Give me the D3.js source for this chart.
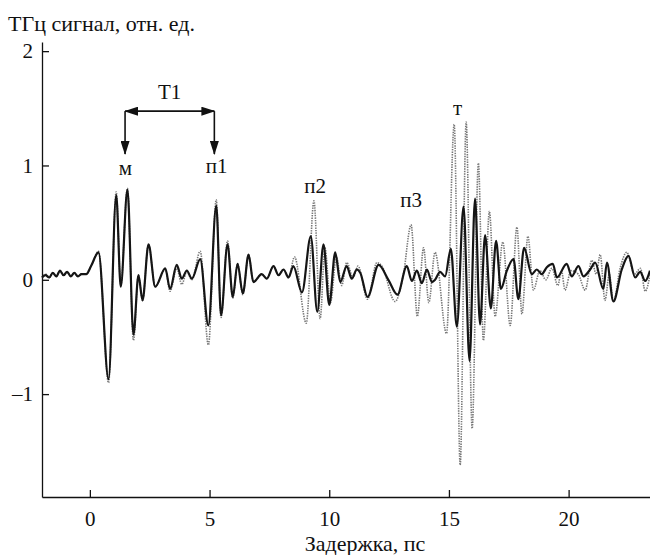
<!DOCTYPE html>
<html>
<head>
<meta charset="utf-8">
<script src="https://cdn.jsdelivr.net/npm/d3@7"></script>
<style>
  body { margin: 0; background: #fff; }
  svg text { font-family: "Liberation Serif", Tinos, "Times New Roman", Times, "DejaVu Serif", serif; fill: #111; }
  .axis path, .axis line { stroke: #111; stroke-width: 1.3; }
</style>
</head>
<body>
<div id="canvas"></div>
<script>
// solid trace, [delay ps, signal]
const signalSolid = [
  [-2.0, 0.02], [-1.85, 0.04], [-1.7, 0.02], [-1.55, 0.06], [-1.4, 0.03], [-1.25, 0.08],
  [-1.1, 0.04], [-0.95, 0.07], [-0.8, 0.03], [-0.65, 0.06], [-0.5, 0.03], [-0.35, 0.05],
  [-0.15, 0.05], [0.05, 0.12], [0.36, 0.24], [0.78, -0.87], [1.10, 0.74], [1.29, -0.06],
  [1.57, 0.79], [1.82, -0.48], [2.03, 0.04], [2.20, -0.18], [2.45, 0.31], [2.73, -0.06],
  [3.15, 0.10], [3.35, -0.08], [3.63, 0.13], [3.84, 0.01], [4.05, 0.08], [4.26, 0.01],
  [4.61, 0.18], [4.95, -0.40], [5.28, 0.65], [5.48, -0.31], [5.75, 0.31], [5.97, -0.15],
  [6.17, 0.14], [6.39, -0.12], [6.63, 0.22], [6.83, -0.02], [7.18, 0.05], [7.39, 0.01],
  [7.67, 0.12], [7.88, 0.04], [8.09, 0.09], [8.30, 0.02], [8.50, 0.12], [8.86, -0.11],
  [9.23, 0.38], [9.50, -0.28], [9.76, 0.31], [10.0, -0.22], [10.25, 0.24], [10.46, -0.02],
  [10.73, 0.12], [10.94, 0.01], [11.15, 0.09], [11.30, 0.06], [11.60, -0.15], [12.06, 0.13],
  [12.47, 0.0], [12.85, -0.13], [13.24, 0.12], [13.45, -0.01], [13.66, 0.08], [13.87, -0.03],
  [14.08, 0.09], [14.29, -0.02], [14.42, 0.0], [14.63, 0.07], [14.84, 0.03], [15.08, 0.27],
  [15.33, -0.41], [15.61, 0.64], [15.86, -0.71], [16.09, 0.71], [16.30, -0.39], [16.51, 0.39],
  [16.75, -0.25], [16.97, 0.34], [17.17, -0.08], [17.42, 0.08], [17.70, 0.18], [17.90, -0.17],
  [18.14, 0.28], [18.46, 0.05], [18.67, 0.09], [18.88, 0.05], [19.09, 0.11], [19.34, 0.14],
  [19.51, 0.02], [19.92, 0.14], [20.13, 0.03], [20.41, 0.12], [20.62, 0.03], [20.90, 0.09],
  [21.11, 0.15], [21.45, -0.08], [21.60, 0.15], [21.87, -0.19], [22.22, 0.09], [22.50, 0.21],
  [22.78, 0.02], [22.99, 0.07], [23.20, -0.01], [23.40, 0.08]
];

// dotted trace
const signalDotted = [
  [-2.0, 0.02], [-1.85, 0.05], [-1.7, 0.02], [-1.55, 0.06], [-1.4, 0.03], [-1.25, 0.08],
  [-1.1, 0.04], [-0.95, 0.07], [-0.8, 0.03], [-0.65, 0.06], [-0.5, 0.03], [-0.35, 0.05],
  [-0.15, 0.05], [0.05, 0.12], [0.36, 0.25], [0.78, -0.90], [1.10, 0.77], [1.29, -0.05],
  [1.57, 0.80], [1.82, -0.53], [2.03, 0.04], [2.20, -0.18], [2.45, 0.31], [2.73, -0.06],
  [3.15, 0.09], [3.35, -0.10], [3.63, 0.10], [3.84, -0.04], [4.05, 0.07], [4.26, 0.0],
  [4.61, 0.25], [4.95, -0.57], [5.28, 0.70], [5.48, -0.33], [5.75, 0.34], [5.97, -0.16],
  [6.17, 0.14], [6.39, -0.13], [6.63, 0.22], [6.83, -0.02], [7.18, 0.05], [7.39, 0.01],
  [7.67, 0.12], [7.88, 0.04], [8.09, 0.09], [8.30, 0.02], [8.55, 0.20], [9.04, -0.38],
  [9.36, 0.69], [9.62, -0.34], [9.82, 0.28], [10.05, -0.20], [10.30, 0.20], [10.52, -0.05],
  [10.73, 0.15], [11.0, 0.02], [11.20, 0.12], [11.60, -0.17], [11.99, 0.15], [12.20, 0.12],
  [12.75, -0.19], [13.10, 0.05], [13.42, 0.48], [13.68, -0.32], [13.94, 0.28], [14.16, -0.20],
  [14.42, 0.24], [14.90, -0.47], [15.22, 1.36], [15.47, -1.62], [15.72, 1.38], [15.97, -1.30],
  [16.23, 1.02], [16.44, -0.53], [16.69, 0.60], [16.93, -0.32], [17.25, 0.33], [17.56, -0.40],
  [17.84, 0.46], [18.05, -0.30], [18.30, 0.38], [18.53, -0.09], [18.80, 0.08], [19.05, 0.0],
  [19.30, 0.10], [19.55, -0.05], [19.70, 0.08], [19.85, -0.09], [20.10, 0.08], [20.40, 0.05],
  [20.69, -0.09], [20.97, 0.17], [21.15, 0.05], [21.32, 0.22], [21.52, -0.18], [21.70, 0.05],
  [21.87, -0.19], [22.15, 0.10], [22.43, 0.24], [22.75, 0.05], [23.0, 0.10], [23.20, -0.10],
  [23.40, 0.04]
];

const xTicks = [0, 5, 10, 15, 20];
const yTicks = [-1, 0, 1, 2];
const xTitle = "Задержка, пс";
const yTitle = "ТГц сигнал, отн. ед.";

// pulse labels (text, delay, signal)
const pulseNames = ["м", "п1", "п2", "п3", "т"];
const pulseT = [1.48, 5.30, 9.41, 13.42, 15.36];
const pulseV = [0.98, 1.0, 0.825, 0.70, 1.51];

// T1 bracket between the two marked pulses
const periodName = "T1";
const periodT = [1.47, 5.2];
const periodV = [1.475, 1.10];

const W = 650, H = 555;
const margin = {left: 42, right: 0, top: 42, bottom: 58};
const FONT = '"Liberation Serif", Tinos, "Times New Roman", Times, "DejaVu Serif", serif';

let svg = d3.select("#canvas").append("svg")
    .attr("width", W)
    .attr("height", H)
    .attr("font-family", FONT);

let x = d3.scaleLinear().domain([-2, 23.4]).range([margin.left, W - margin.right]);
let y = d3.scaleLinear().domain([-1.9, 2.08]).range([H - margin.bottom, margin.top]);

function fmtTick(d) {
    return d < 0 ? "\u2013" + Math.abs(d) : "" + d;
}

// axes, ticks point inward
let xAxis = svg.append("g")
    .attr("class", "axis")
    .attr("transform", "translate(0," + (H - margin.bottom) + ")")
    .call(d3.axisBottom(x).tickValues(xTicks).tickSize(-7).tickSizeOuter(0).tickPadding(14));
let yAxis = svg.append("g")
    .attr("class", "axis")
    .attr("transform", "translate(" + margin.left + ",0)")
    .call(d3.axisLeft(y).tickValues(yTicks).tickSize(-7).tickSizeOuter(0).tickPadding(9)
        .tickFormat(fmtTick));
svg.selectAll(".axis").attr("font-family", FONT);
svg.selectAll(".axis text")
    .attr("font-size", 21)
    .attr("fill", "#111");

svg.append("text")
    .attr("x", 365)
    .attr("y", 551)
    .attr("text-anchor", "middle")
    .attr("font-size", 22)
    .text(xTitle);
svg.append("text")
    .attr("x", 8)
    .attr("y", 31)
    .attr("font-size", 22)
    .text(yTitle);

// traces
let line = d3.line()
    .x(d => x(d[0]))
    .y(d => y(d[1]))
    .curve(d3.curveMonotoneX);

svg.append("path")
    .datum(signalDotted)
    .attr("fill", "none")
    .attr("stroke", "#777")
    .attr("stroke-width", 1.6)
    .attr("stroke-dasharray", "1.4,1.1")
    .attr("d", line);

svg.append("path")
    .datum(signalSolid)
    .attr("fill", "none")
    .attr("stroke", "#151515")
    .attr("stroke-width", 2.2)
    .attr("stroke-linejoin", "round")
    .attr("d", line);

// arrowhead
svg.append("defs").append("marker")
    .attr("id", "head")
    .attr("markerUnits", "userSpaceOnUse")
    .attr("viewBox", "0 0 14 9")
    .attr("markerWidth", 14)
    .attr("markerHeight", 9)
    .attr("refX", 13)
    .attr("refY", 4.5)
    .attr("orient", "auto-start-reverse")
    .append("path")
    .attr("d", "M0,0 L14,4.5 L0,9 Z")
    .attr("fill", "#111");

let arrows = svg.append("g")
    .attr("stroke", "#111")
    .attr("stroke-width", 1.6)
    .attr("fill", "none");
arrows.append("line")
    .attr("x1", x(periodT[0])).attr("y1", y(periodV[0]))
    .attr("x2", x(periodT[1])).attr("y2", y(periodV[0]))
    .attr("marker-start", "url(#head)")
    .attr("marker-end", "url(#head)");
periodT.forEach(function(t) {
    arrows.append("line")
        .attr("x1", x(t)).attr("y1", y(periodV[0]))
        .attr("x2", x(t)).attr("y2", y(periodV[1]))
        .attr("marker-end", "url(#head)");
});

svg.append("text")
    .attr("x", x((periodT[0] + periodT[1]) / 2))
    .attr("y", y(periodV[0]) - 12)
    .attr("text-anchor", "middle")
    .attr("font-size", 21)
    .text(periodName);

svg.selectAll(".pulse")
    .data(pulseNames)
    .enter().append("text")
    .attr("class", "pulse")
    .attr("x", (d, i) => x(pulseT[i]))
    .attr("y", (d, i) => y(pulseV[i]))
    .attr("dy", "0.35em")
    .attr("text-anchor", "middle")
    .attr("font-size", 21)
    .text(d => d);
</script>
</body>
</html>
